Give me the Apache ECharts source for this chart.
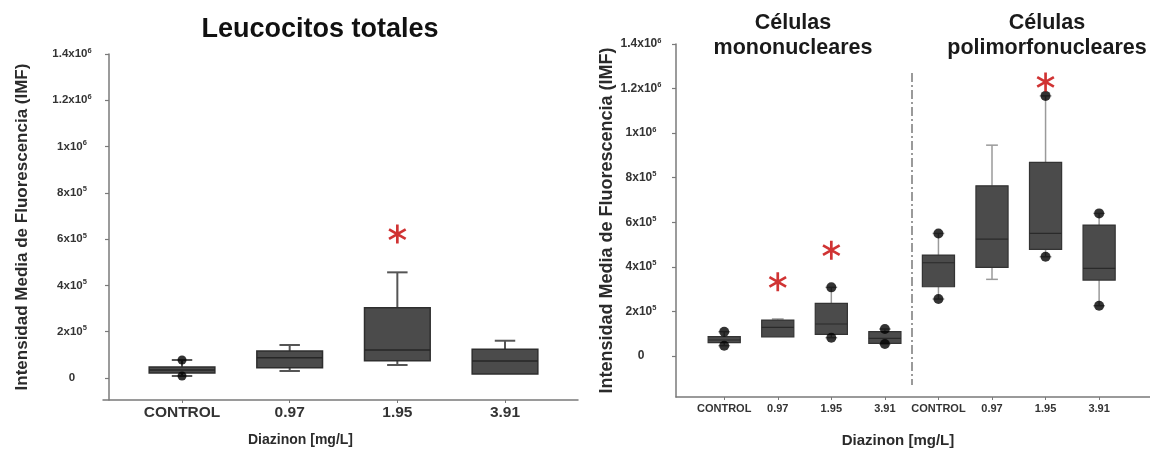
<!DOCTYPE html>
<html><head><meta charset="utf-8">
<script src="https://cdn.jsdelivr.net/npm/echarts@6/dist/echarts.min.js"></script>
<style>html,body{margin:0;padding:0;background:#fff}#c{width:1150px;height:453px}</style>
</head><body><div id="c"></div>
<script>
// ---------- DATA ----------
const categories = ['CONTROL', '0.97', '1.95', '3.91'];
const rightCategories = ['CONTROL', '0.97', '1.95', '3.91', 'CONTROL', '0.97', '1.95', '3.91'];
const yTickValues = [0, 200000, 400000, 600000, 800000, 1000000, 1200000, 1400000];
const yTickLabels = [['0', ''], ['2x10', '5'], ['4x10', '5'], ['6x10', '5'], ['8x10', '5'], ['1x10', '6'], ['1.2x10', '6'], ['1.4x10', '6']];

// [min, Q1, median, Q3, max] per category
const leucoStats = [
  [8600, 21600, 34500, 47500, 77800],
  [30200, 44500, 87700, 116600, 142600],
  [56200, 74700, 121000, 303700, 456600],
  [17300, 17300, 73400, 124000, 161100]
];
const leucoDots = [[0, 77800], [0, 8600]];
const leucoSig = [[2, 622000]];

const monoStats = [
  [46200, 59600, 71700, 86500, 109000],
  [84000, 85200, 128700, 161400, 166000],
  [82000, 97300, 143500, 236300, 308000],
  [53800, 56900, 79400, 109000, 121000]
];
const monoDots = [[0, 109000], [0, 46200], [2, 308000], [2, 82000], [3, 121000], [3, 53800]];
const monoSig = [[1, 333000], [2, 475000]];

const polyStats = [
  [255600, 310800, 418400, 452900, 550000],
  [343900, 397700, 524600, 763600, 946100],
  [445300, 478400, 550000, 868600, 1167200],
  [225500, 340800, 393300, 587400, 639900]
];
const polyDots = [[4, 550000], [4, 255600], [6, 1167200], [6, 445300], [7, 639900], [7, 225500]];
const polySig = [[6, 1230000]];
const dividerAt = 3.5;

// ---------- CHART ----------
const FONT = 'Liberation Sans, Arial, sans-serif';
const ASTERISK = 'path://M-1.4,10L1.4,10L1.4,-10L-1.4,-10Z M7.96,6.21L9.36,3.79L-7.96,-6.21L-9.36,-3.79Z M-9.36,3.79L-7.96,6.21L9.36,-3.79L7.96,-6.21Z';

function boxRender(opt) {
  return function (params, api) {
    const x = api.value(0);
    const lo = api.coord([x, api.value(1)]);
    const q1 = api.coord([x, api.value(2)]);
    const md = api.coord([x, api.value(3)]);
    const q3 = api.coord([x, api.value(4)]);
    const hi = api.coord([x, api.value(5)]);
    const unit = api.size([1, 0])[0];
    const bw = unit * opt.box, cw = unit * opt.cap, cx = lo[0];
    const ws = { stroke: opt.whisker, lineWidth: opt.wl };
    const ch = [];
    if (hi[1] < q3[1] - 0.5) {
      ch.push({ type: 'line', shape: { x1: cx, y1: hi[1], x2: cx, y2: q3[1] }, style: ws });
      ch.push({ type: 'line', shape: { x1: cx - cw / 2, y1: hi[1], x2: cx + cw / 2, y2: hi[1] }, style: ws });
    }
    if (lo[1] > q1[1] + 0.5) {
      ch.push({ type: 'line', shape: { x1: cx, y1: q1[1], x2: cx, y2: lo[1] }, style: ws });
      ch.push({ type: 'line', shape: { x1: cx - cw / 2, y1: lo[1], x2: cx + cw / 2, y2: lo[1] }, style: ws });
    }
    ch.push({ type: 'rect', shape: { x: cx - bw / 2, y: q3[1], width: bw, height: q1[1] - q3[1] },
      style: { fill: opt.fill, stroke: opt.border, lineWidth: opt.bl } });
    ch.push({ type: 'line', shape: { x1: cx - bw / 2, y1: md[1], x2: cx + bw / 2, y2: md[1] },
      style: { stroke: opt.median, lineWidth: opt.ml } });
    return { type: 'group', children: ch };
  };
}

function yLabel(v) {
  const i = yTickValues.indexOf(v);
  if (i < 0) return '';
  const l = yTickLabels[i];
  return l[1] ? '{b|' + l[0] + '}{s|' + l[1] + '}' : '{b|' + l[0] + '}';
}

function yAxisCfg(gi, min, gap, nameSize, margin, labelSize, offset) {
  return {
    type: 'value', gridIndex: gi, min: min, max: 1400000, offset: offset,
    name: 'Intensidad Media de Fluorescencia (IMF)', nameLocation: 'middle', nameGap: gap,
    nameTextStyle: { fontFamily: FONT, fontSize: nameSize, fontWeight: 'bold', color: '#2b2b2b' },
    axisLine: { show: true, onZero: false, lineStyle: { color: '#7a7a7a', width: 1.5 } },
    axisTick: { show: true, length: 4, customValues: yTickValues, lineStyle: { color: '#7a7a7a', width: 1.2 } },
    axisLabel: {
      customValues: yTickValues, formatter: yLabel, align: 'center', margin: margin,
      rich: {
        b: { fontFamily: FONT, fontSize: labelSize, fontWeight: 'bold', color: '#333', lineHeight: 15 },
        s: { fontFamily: FONT, fontSize: 7.5, fontWeight: 'bold', color: '#333', verticalAlign: 'top', lineHeight: 15 }
      }
    },
    splitLine: { show: false }
  };
}

function xAxisCfg(gi, min, max, cats, labelSize, margin, nameSize, nameGap, shift) {
  const vals = cats.map((c, i) => i);
  return {
    type: 'value', gridIndex: gi, min: min, max: max,
    name: 'Diazinon [mg/L]', nameLocation: 'middle', nameGap: nameGap,
    nameTextStyle: { fontFamily: FONT, fontSize: nameSize, fontWeight: 'bold', color: '#2b2b2b', padding: [0, shift * 2, 0, 0] },
    axisLine: { show: true, onZero: false, lineStyle: { color: '#7a7a7a', width: 1.5 } },
    axisTick: { show: true, length: 3, customValues: vals, lineStyle: { color: '#7a7a7a' } },
    axisLabel: { customValues: vals, formatter: v => cats[Math.round(v)], margin: margin,
      fontFamily: FONT, fontSize: labelSize, fontWeight: 'bold', color: '#333' },
    splitLine: { show: false }
  };
}

const leftBox = { box: 0.61, cap: 0.19, whisker: '#555', wl: 2, fill: '#4b4b4b', border: '#2e2e2e', bl: 1.5, median: '#262626', ml: 1.5 };
const rightBox = { box: 0.6, cap: 0.22, whisker: '#9a9a9a', wl: 1.5, fill: '#4b4b4b', border: '#333', bl: 1.2, median: '#2a2a2a', ml: 1.2 };

const chart = echarts.init(document.getElementById('c'), null, { renderer: 'canvas' });
chart.setOption({
  animation: false,
  backgroundColor: '#fff',
  title: [
    { text: 'Leucocitos totales', left: 315, top: 11, textAlign: 'center',
      textStyle: { fontFamily: FONT, fontSize: 27, fontWeight: 'bold', color: '#111' } },
    { text: 'Células\nmononucleares', left: 788, top: 6, textAlign: 'center',
      textStyle: { fontFamily: FONT, fontSize: 21.5, fontWeight: 'bold', color: '#1a1a1a', lineHeight: 25 } },
    { text: 'Células\npolimorfonucleares', left: 1042, top: 6, textAlign: 'center',
      textStyle: { fontFamily: FONT, fontSize: 21.5, fontWeight: 'bold', color: '#1a1a1a', lineHeight: 25 } }
  ],
  grid: [
    { left: 103, right: 572, top: 54, bottom: 53 },
    { left: 676, right: 0, top: 44, bottom: 56 }
  ],
  xAxis: [
    xAxisCfg(0, -0.734, 3.678, categories, 15.5, 5, 14, 33, 40),
    xAxisCfg(1, -0.9, 7.95, rightCategories, 11, 6, 15, 36, 15)
  ],
  yAxis: [
    yAxisCfg(0, -95000, 78, 17, 37, 11.5, -6),
    yAxisCfg(1, -184000, 60, 18, 35, 12, 0)
  ],
  series: [
    { type: 'custom', xAxisIndex: 0, yAxisIndex: 0, renderItem: boxRender(leftBox),
      encode: { x: 0, y: [1, 2, 3, 4, 5] }, data: leucoStats.map((s, i) => [i].concat(s)), z: 2 },
    { type: 'scatter', xAxisIndex: 0, yAxisIndex: 0, data: leucoDots, symbolSize: 9,
      itemStyle: { color: '#000' }, z: 3 },
    { type: 'scatter', xAxisIndex: 0, yAxisIndex: 0, data: leucoSig, symbol: ASTERISK, symbolSize: [18, 19],
      itemStyle: { color: '#c40000' }, z: 3 },

    { type: 'custom', xAxisIndex: 1, yAxisIndex: 1, renderItem: boxRender(rightBox),
      encode: { x: 0, y: [1, 2, 3, 4, 5] }, data: monoStats.map((s, i) => [i].concat(s)), z: 2 },
    { type: 'custom', xAxisIndex: 1, yAxisIndex: 1, renderItem: boxRender(rightBox),
      encode: { x: 0, y: [1, 2, 3, 4, 5] }, data: polyStats.map((s, i) => [i + 4].concat(s)), z: 2,
      markLine: { silent: true, symbol: 'none', label: { show: false },
        lineStyle: { color: '#7a7a7a', width: 1.5, type: [9, 3, 2, 3] },
        data: [[{ coord: [dividerAt, 1270000] }, { coord: [dividerAt, -130000] }]] } },
    { type: 'scatter', xAxisIndex: 1, yAxisIndex: 1, data: monoDots.concat(polyDots), symbolSize: 10,
      itemStyle: { color: '#000' }, z: 3 },
    { type: 'scatter', xAxisIndex: 1, yAxisIndex: 1, data: monoSig.concat(polySig), symbol: ASTERISK, symbolSize: [18, 19],
      itemStyle: { color: '#c40000' }, z: 3 }
  ]
});
</script>
</body></html>
